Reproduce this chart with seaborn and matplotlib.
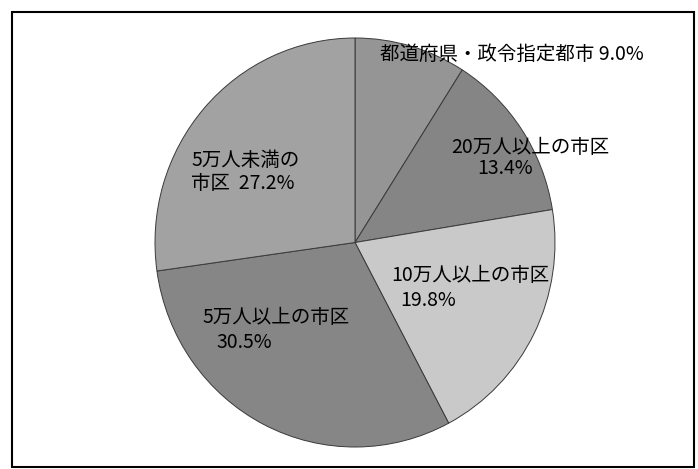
import matplotlib
matplotlib.use("Agg")
import matplotlib.pyplot as plt
import seaborn as sns

# ---- data ----
categories = ["都道府県・政令指定都市", "20万人以上の市区", "10万人以上の市区",
              "5万人以上の市区", "5万人未満の市区"]
values = [9.0, 13.4, 19.8, 30.5, 27.2]

sns.set_theme(style="white")
plt.rcParams["font.family"] = ["Noto Sans CJK JP", "DejaVu Sans"]

palette = sns.color_palette(["#959595", "#858585", "#c9c9c9", "#868686", "#a2a2a2"])

W, H = 698, 469
fig = plt.figure(figsize=(W / 100, H / 100), dpi=100)
fig.patch.set_facecolor("white")

# pie area in pixels
pl, pr, pt, pb = 155, 555, 38, 447
ax = fig.add_axes([pl / W, 1 - pb / H, (pr - pl) / W, (pb - pt) / H])
wedges, _ = ax.pie(values, colors=palette, startangle=90, counterclock=False,
                   wedgeprops=dict(edgecolor="#3a3a3a", linewidth=0.7))
ax.set_aspect("auto")
ax.set_xlim(-1, 1)
ax.set_ylim(-1, 1)
ax.axis("off")

cx, cy = (pl + pr) / 2, (pt + pb) / 2
rx, ry = (pr - pl) / 2, (pb - pt) / 2


def put(px, py, s, ha="center"):
    ax.text((px - cx) / rx, (cy - py) / ry, s, ha=ha, va="center",
            fontsize=14, color="black", clip_on=False)


# labels (category / percentage)
put(512, 54, f"{categories[0]} {values[0]:.1f}%")
put(530, 147, categories[1])
put(505, 168, f"{values[1]:.1f}%")
put(470, 275, categories[2])
put(428, 300, f"{values[2]:.1f}%")
put(276, 317, categories[3])
put(244, 342, f"{values[3]:.1f}%")
put(191, 160, categories[4][:-2], ha="left")
put(191, 183, f"{categories[4][-2:]}  {values[4]:.1f}%", ha="left")

# outer frame
fig.add_artist(plt.Rectangle((12 / W, 1 - 467 / H), (694 - 12) / W, (467 - 12) / H,
                             transform=fig.transFigure, fill=False,
                             edgecolor="black", linewidth=1.5))

fig.savefig("out.png", dpi=100, facecolor="white")
